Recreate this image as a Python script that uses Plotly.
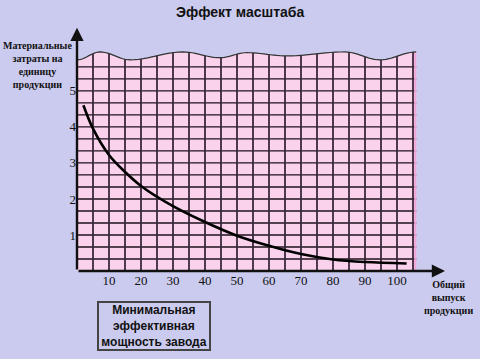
import numpy as np
import plotly.graph_objects as go

# ---- data ----
output_x = [2, 5, 10, 15, 20, 30, 40, 50, 60, 70, 80, 90, 103]
cost_y = [4.6, 3.95, 3.22, 2.75, 2.36, 1.80, 1.36, 0.98, 0.70, 0.47, 0.32, 0.25, 0.21]
x_ticks = [10, 20, 30, 40, 50, 60, 70, 80, 90, 100]
y_ticks = [1, 2, 3, 4, 5]
title_text = "Эффект масштаба"
y_title = "Материальные<br>затраты на<br>единицу<br>продукции"
x_title = "Общий<br>выпуск<br>продукции"
box_text = "Минимальная<br>эффективная<br>мощность завода"
box_x = 24.6

# ---- styling / layout constants ----
BG = "#cbcbef"
PINK = "#fad2ec"
XMAX, YMAX = 115, 6.8
PINK_R = 106
# wave extrema (decorative top edge of the grid paper)
wave_pts = [(0, 5.86), (7.2, 6.08), (16.6, 5.86), (33.1, 6.08), (44.7, 5.92),
            (53.1, 6.06), (65.6, 5.97), (83.75, 6.08), (94.7, 5.86), (106, 6.08)]

wx, wy = [], []
for (x0, y0), (x1, y1) in zip(wave_pts[:-1], wave_pts[1:]):
    for t in np.linspace(0, 1, 12, endpoint=False):
        wx.append(x0 + (x1 - x0) * t)
        wy.append(y0 + (y1 - y0) * (1 - np.cos(np.pi * t)) / 2)
wx.append(wave_pts[-1][0]); wy.append(wave_pts[-1][1])

wave_line = "M " + " L ".join(f"{a:.3f},{b:.3f}" for a, b in zip(wx, wy))
cover = wave_line + f" L {PINK_R + 1},{wy[-1]:.3f} L {PINK_R + 1},6.6 L -0.5,6.6 L -0.5,{wy[0]:.3f} Z"

shapes = [dict(type="rect", xref="x", yref="y", x0=0, x1=PINK_R, y0=0, y1=6.3,
               fillcolor=PINK, line_width=0, layer="below")]
for k in range(1, 18):
    shapes.append(dict(type="line", xref="x", yref="y", x0=0, x1=PINK_R, y0=k / 3, y1=k / 3,
                       line=dict(color="#1e121e", width=1.4), layer="below"))
for v in range(5, 106, 5):
    shapes.append(dict(type="line", xref="x", yref="y", x0=v, x1=v, y0=0, y1=6.3,
                       line=dict(color="rgba(55,35,55,0.88)", width=2), layer="below"))
shapes.append(dict(type="line", xref="x", yref="y", x0=PINK_R - 0.3, x1=PINK_R - 0.3, y0=0, y1=6.1,
                   line=dict(color="#f0a6d6", width=2), layer="below"))
shapes.append(dict(type="path", xref="x", yref="y", path=cover, fillcolor=BG,
                   line_width=0, layer="above"))
shapes.append(dict(type="path", xref="x", yref="y", path=wave_line,
                   line=dict(color="#333333", width=1.2), layer="above"))

fig = go.Figure()
fig.add_trace(go.Scatter(x=output_x, y=cost_y, mode="lines", line_shape="spline",
                         line=dict(color="black", width=2.6), hoverinfo="skip"))

def px(xp):
    return (xp - 77) / 368

def py(yp):
    return (271 - yp) / 245

annotations = [
    dict(text=f"<b>{title_text}</b>", xref="paper", yref="paper", x=px(240), y=py(12),
         showarrow=False, font=dict(family="Liberation Sans", size=14, color="#111"),
         xanchor="center", yanchor="middle"),
    dict(text=f"<b>{y_title}</b>", xref="paper", yref="paper", x=px(37), y=py(65),
         showarrow=False, font=dict(family="Liberation Serif", size=10, color="#111"),
         xanchor="center", yanchor="middle"),
    dict(text=f"<b>{x_title}</b>", xref="paper", yref="paper", x=px(448), y=py(297),
         showarrow=False, font=dict(family="Liberation Serif", size=10, color="#111"),
         xanchor="center", yanchor="middle"),
    # axes arrows
    dict(text="", x=0, y=6.75, ax=0, ay=0, xref="x", yref="y", axref="x", ayref="y",
         showarrow=True, arrowhead=2, arrowsize=1.1, arrowwidth=2.4, arrowcolor="#111"),
    dict(text="", x=XMAX, y=0, ax=0, ay=0, xref="x", yref="y", axref="x", ayref="y",
         showarrow=True, arrowhead=2, arrowsize=1.1, arrowwidth=2.4, arrowcolor="#111"),
    # pointer from box
    dict(text="", x=box_x, y=-0.06, ax=box_x, ay=-0.86, xref="x", yref="y", axref="x", ayref="y",
         showarrow=True, arrowhead=2, arrowsize=0.8, arrowwidth=1, arrowcolor="#333"),
    dict(text=f"<b>{box_text}</b>", xref="paper", yref="paper", x=px(153.5), y=py(326),
         showarrow=False, font=dict(family="Liberation Sans", size=12, color="#111"),
         xanchor="center", yanchor="middle", bgcolor=BG, bordercolor="#444",
         borderwidth=2, borderpad=1, width=108, height=44),
]

fig.update_layout(
    width=480, height=359,
    margin=dict(l=77, r=35, t=26, b=88),
    paper_bgcolor=BG, plot_bgcolor=BG,
    showlegend=False,
    shapes=shapes, annotations=annotations,
    xaxis=dict(range=[0, XMAX], showgrid=False, zeroline=False, showline=False,
               tickvals=x_ticks, ticks="", fixedrange=True,
               tickfont=dict(family="Liberation Serif", size=13, color="#111")),
    yaxis=dict(range=[0, YMAX], showgrid=False, zeroline=False, showline=False,
               tickvals=y_ticks, ticks="", fixedrange=True,
               tickfont=dict(family="Liberation Serif", size=13, color="#111")),
)
fig.update_xaxes(tickprefix="<b>", ticksuffix="</b>")
fig.update_yaxes(tickprefix="<b>", ticksuffix="</b>")

fig.write_html("out.html", config={"displayModeBar": False},
               post_script="document.body.style.margin='0';document.body.style.background='" + BG + "';")
